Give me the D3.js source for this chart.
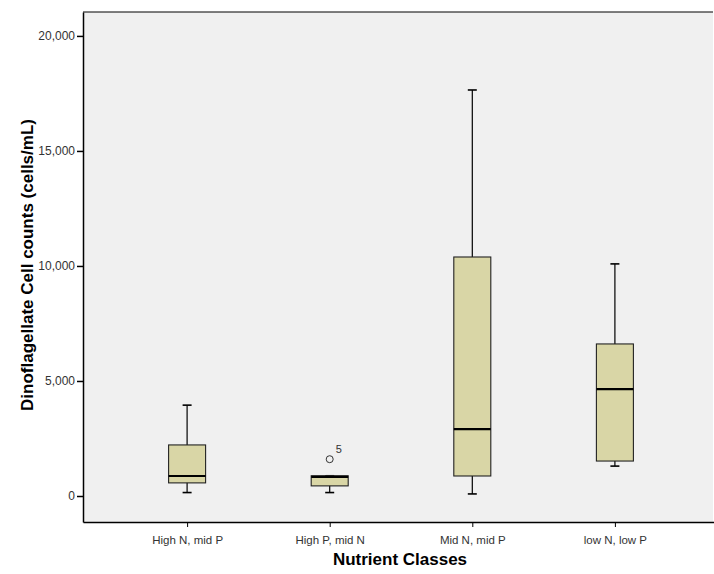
<!DOCTYPE html>
<html>
<head>
  <meta charset="UTF-8" />
  <script src="https://d3js.org/d3.v7.min.js"></script>
  <style>
    body { margin: 0; padding: 0; background: #fff; }
    svg { font-family: Arial, "Liberation Sans", sans-serif; }
  </style>
</head>
<body>
  <div id="chart"></div>
  <script>
    const categories = ["High N, mid P", "High P, mid N", "Mid N, mid P", "low N, low P"];
    const whiskerLow = [150, 150, 90, 1300];
    const q1 = [570, 440, 870, 1520];
    const median = [870, 830, 2910, 4650];
    const q3 = [2220, 880, 10390, 6610];
    const whiskerHigh = [3950, 880, 17650, 10090];
    const outliers = [{ cat: "High P, mid N", value: 1600, label: "5" }];
    const yTicks = [0, 5000, 10000, 15000, 20000];

    const width = 714, height = 574;
    const margin = { top: 12, right: 1, bottom: 52, left: 83 };
    const innerW = width - margin.left - margin.right;
    const innerH = height - margin.top - margin.bottom;

    const svg = d3.select("#chart").append("svg")
      .attr("width", width).attr("height", height);

    const g = svg.append("g").attr("transform", `translate(${margin.left},${margin.top})`);

    // the category band runs a little past the right edge of the window
    const x = d3.scalePoint().domain(categories).range([0, innerW + 6]).padding(0.73);
    const y = d3.scaleLinear().domain([-1130, 21040]).range([innerH, 0]);

    g.append("rect").attr("width", innerW).attr("height", innerH).attr("fill", "#f0f0f0");

    const boxW = 37;
    const boxes = categories.map((c, i) => ({
      cat: c, lo: whiskerLow[i], q1: q1[i], med: median[i], q3: q3[i], hi: whiskerHigh[i]
    }));

    const bg = g.selectAll(".box").data(boxes).enter().append("g").attr("class", "box");

    bg.append("line")
      .attr("x1", d => x(d.cat)).attr("x2", d => x(d.cat))
      .attr("y1", d => y(d.lo)).attr("y2", d => y(d.hi))
      .attr("stroke", "#000").attr("stroke-width", 1.2);
    bg.append("line")
      .attr("x1", d => x(d.cat) - 4.5).attr("x2", d => x(d.cat) + 4.5)
      .attr("y1", d => y(d.lo)).attr("y2", d => y(d.lo))
      .attr("stroke", "#000").attr("stroke-width", 1.6);
    bg.append("line")
      .attr("x1", d => x(d.cat) - 4.5).attr("x2", d => x(d.cat) + 4.5)
      .attr("y1", d => y(d.hi)).attr("y2", d => y(d.hi))
      .attr("stroke", "#000").attr("stroke-width", 1.6);
    bg.append("rect")
      .attr("x", d => x(d.cat) - boxW / 2).attr("width", boxW)
      .attr("y", d => y(d.q3)).attr("height", d => y(d.q1) - y(d.q3))
      .attr("fill", "#d9d6a6").attr("stroke", "#222").attr("stroke-width", 1.1);
    bg.append("line")
      .attr("x1", d => x(d.cat) - boxW / 2).attr("x2", d => x(d.cat) + boxW / 2)
      .attr("y1", d => y(d.med)).attr("y2", d => y(d.med))
      .attr("stroke", "#000").attr("stroke-width", 2.2);

    g.selectAll(".outlier").data(outliers).enter().append("circle")
      .attr("cx", d => x(d.cat)).attr("cy", d => y(d.value)).attr("r", 3.5)
      .attr("fill", "none").attr("stroke", "#333").attr("stroke-width", 1);
    g.selectAll(".outlabel").data(outliers).enter().append("text")
      .attr("x", d => x(d.cat) + 6).attr("y", d => y(d.value) - 6)
      .attr("font-size", 11).attr("fill", "#333").text(d => d.label);

    // top frame line
    g.append("line").attr("x1", 0).attr("x2", innerW).attr("y1", 0).attr("y2", 0)
      .attr("stroke", "#000").attr("stroke-width", 1.2);

    const yAxis = g.append("g")
      .call(d3.axisLeft(y).tickValues(yTicks).tickSize(6).tickSizeOuter(0).tickFormat(d3.format(",")));
    yAxis.select(".domain").attr("stroke-width", 1.5);
    yAxis.selectAll(".tick line").attr("stroke-width", 1.5);
    yAxis.selectAll("text").attr("font-size", 12).attr("fill", "#333").attr("x", -8);

    const xAxis = g.append("g").attr("transform", `translate(0,${innerH})`)
      .call(d3.axisBottom(x).tickSize(5).tickSizeOuter(0));
    xAxis.select(".domain").attr("stroke-width", 1.5);
    xAxis.selectAll("text").attr("font-size", 11.5).attr("fill", "#333").attr("y", 14);

    svg.append("text")
      .attr("transform", `translate(33,265) rotate(-90)`)
      .attr("text-anchor", "middle")
      .attr("font-size", 17).attr("font-weight", "bold")
      .text("Dinoflagellate Cell counts (cells/mL)");

    svg.append("text")
      .attr("x", 400).attr("y", 565)
      .attr("text-anchor", "middle")
      .attr("font-size", 17).attr("font-weight", "bold")
      .text("Nutrient Classes");
  </script>
</body>
</html>
